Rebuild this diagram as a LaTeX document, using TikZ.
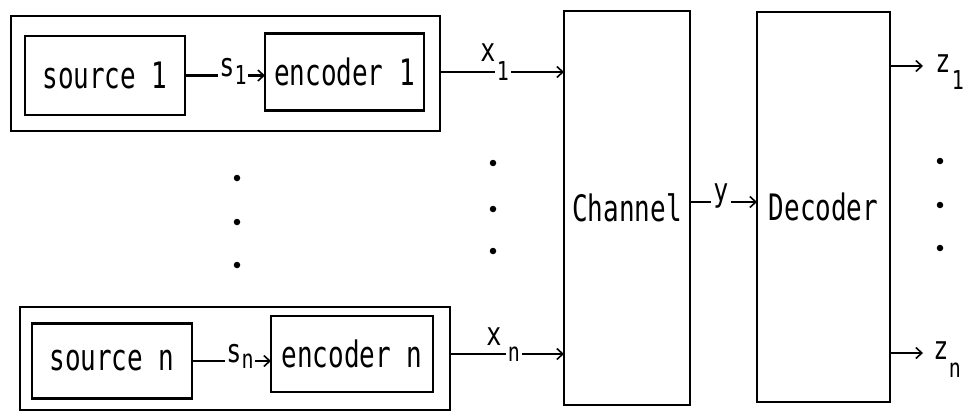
\documentclass[tikz,border=0pt]{standalone}
\usepackage{fontspec}
\usepackage{graphicx}
\setmainfont{DejaVu Sans Mono}
\usetikzlibrary{arrows.meta}
\newcommand\bigtxt[1]{\scalebox{1}[1.4]{\fontsize{26pt}{28pt}\selectfont #1}}
\newcommand\lbltxt[1]{\scalebox{1}[1.3]{\fontsize{25pt}{27pt}\selectfont #1}}
\newcommand\subtxt[1]{\scalebox{1}[1.3]{\fontsize{20pt}{22pt}\selectfont #1}}
\tikzset{
  blk/.style={draw, line width=2.2pt, inner sep=0pt, outer sep=0pt},
  conn/.style={line width=2.2pt},
  arr/.style={conn, -{Straight Barb[length=6pt,width=11pt,line width=1.6pt]}},
  lbl/.style={fill=white, inner sep=1pt},
  dotm/.style={circle, fill=black, inner sep=0pt, minimum size=6.5pt}
}
\begin{document}
\begin{tikzpicture}[x=1pt,y=-1pt]
\useasboundingbox (0,0) rectangle (965,415);
% outer boxes
\node[blk, minimum width=429pt, minimum height=115pt] (outer1) at (225.5,73.5) {};
\node[blk, minimum width=430pt, minimum height=103pt] (outern) at (235,358.5) {};
% inner boxes
\node[blk, minimum width=160pt, minimum height=79pt] (src1) at (105,75.5) {\bigtxt{source 1}};
\node[blk, minimum width=159pt, minimum height=77pt] (enc1) at (344.5,72) {\bigtxt{encoder 1}};
\node[blk, minimum width=160pt, minimum height=75pt] (srcn) at (112,361) {\bigtxt{source n}};
\node[blk, minimum width=162pt, minimum height=76pt] (encn) at (352,354) {\bigtxt{encoder n}};
% channel and decoder
\node[blk, minimum width=126pt, minimum height=394pt] (chan) at (627,208) {\bigtxt{Channel}};
\node[blk, minimum width=133pt, minimum height=390pt] (dec) at (823.5,207) {\bigtxt{Decoder}};
% coordinates for free ends
\coordinate (z1end) at (923,66);
\coordinate (znend) at (923,353);
% connectors
\draw[arr] (src1.east) -- (src1.east -| enc1.west);
\draw[arr] (enc1.east -| outer1.east) -- (enc1.east -| chan.west);
\draw[arr] (srcn.east) -- (srcn.east -| encn.west);
\draw[arr] (encn.east -| outern.east) -- (encn.east -| chan.west);
\draw[arr] ([yshift=6pt]chan.east) -- ([yshift=6pt]chan.east -| dec.west);
\draw[arr] (z1end -| dec.east) -- (z1end);
\draw[arr] (znend -| dec.east) -- (znend);
% connector labels
\node[lbl] (s1lbl) at (233,71) {\lbltxt{s}\raisebox{-8pt}{\subtxt{1}}};
\node[lbl] (snlbl) at (240,356) {\lbltxt{s}\raisebox{-6pt}{\subtxt{n}}};
\node[lbl, inner sep=2pt] (x1sub) at (503,71.5) {\subtxt{1}};
\node (x1lbl) at (488,53) {\lbltxt{x}};
\node[lbl, inner sep=2pt] (xnsub) at (514,354) {\subtxt{n}};
\node (xnlbl) at (494,337) {\lbltxt{x}};
\node[lbl, inner sep=2pt] (ylbl) at (721,196) {\lbltxt{y}};
\node (z1lbl) at (943,64) {\lbltxt{z}};
\node (z1sub) at (958,80) {\subtxt{1}};
\node (znlbl) at (941,351) {\lbltxt{z}};
\node (znsub) at (955,370) {\subtxt{n}};
% dots
\foreach \yy [count=\i] in {178,222,265} \node[dotm] (la\i) at (237,\yy) {};
\foreach \yy [count=\i] in {163,209,251} \node[dotm] (mi\i) at (493,\yy) {};
\foreach \yy [count=\i] in {161,205,248} \node[dotm] (ri\i) at (940,\yy) {};
\end{tikzpicture}
\end{document}
